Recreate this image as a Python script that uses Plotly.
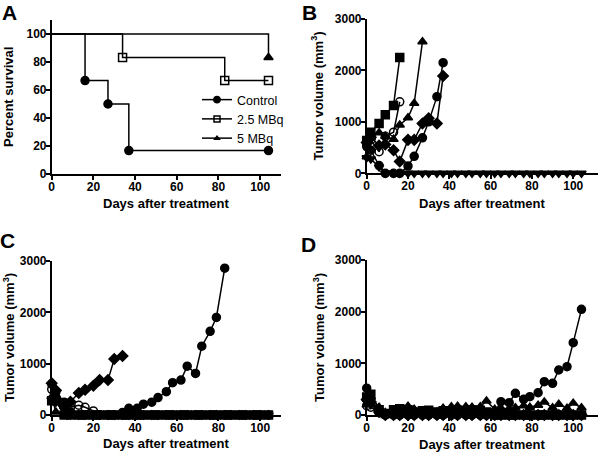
# Libraries
# =====================================================================
import plotly.graph_objects as go

# Data
# =====================================================================
# Measurement schedule (days after treatment)
days = [0, 2, 6, 9, 13, 16, 20, 23, 27, 30, 34, 37, 41, 44, 48, 51,
        55, 58, 62, 65, 69, 72, 76, 79, 83, 86, 90, 93, 97, 100, 104]

# Panel A - Kaplan-Meier survival (%)
surv_control_x = [0, 16, 27, 37, 104]
surv_control_y = [100, 66.7, 50, 16.7, 16.7]
surv_25_x = [0, 34, 83, 104]
surv_25_y = [100, 83.3, 66.7, 66.7]
surv_5_x = [0, 104]
surv_5_y = [100, 83.3]
surv_names = ['Control', '2.5 MBq', '5 MBq']

# Panel B - Control, tumor volume (mm3)
b_circle = [520, 450, 150, 0, 0, 0, 140, 330, 690, 1000, 1490, 2150]
b_square = [640, 800, 970, 1140, 1320, 2250]
b_open = [560, 650, 420, 720, 800, 1390]
b_tri_up = [320, 700, 790, 720, 660, 940, 1080, 1360, 2560]
b_diamond = [600, 700, 540, 560, 450, 230, 650, 650, 970, 1070, 970, 1890]
b_tri_down = [300, 280, 120] + [0] * 28

# Panel C - 2.5 MBq, tumor volume (mm3)
c_circle = [600, 450, 250, 60, 0, 0, 0, 0, 0, 0, 50, 130, 130, 210, 250,
            340, 455, 630, 680, 950, 810, 1340, 1630, 1900, 2860]
c_diamond = [620, 480, 170, 260, 430, 490, 570, 680, 680, 1090, 1150]
c_open = [500, 350, 200, 150, 190, 150, 80] + [0] * 24
c_square = [280, 280] + [0] * 29
c_tri_up = [350, 60] + [0] * 29
c_tri_down = [300, 250, 100] + [0] * 28

# Panel D - 5 MBq, tumor volume (mm3)
d_circle = [520, 300, 80] + [0] * 15 + [60, 258, 238, 419, 303, 355, 432,
                                        645, 613, 871, 935, 1400, 2045]
d_tri_up = [200, 350, 150, 50, 60, 90, 170, 110, 80, 70, 60, 130, 160, 170,
            160, 150, 160, 270, 110, 130, 120, 140, 180, 150, 190, 250,
            140, 210, 130, 230, 140]
d_square = [350, 400, 100, 30, 100, 120, 100, 60, 80, 90, 60, 80, 70, 90,
            80, 100, 90, 60, 0] + [0] * 12
d_open = [180, 150, 50] + [0] * 28
d_diamond = [300, 250, 60] + [0] * 28
d_tri_down = [250, 200, 60] + [0] * 28

# Data Visualization
# =====================================================================
FONT = 'Liberation Sans, Arial, sans-serif'
fig = go.Figure()

# Survival curves (panel A)
survival = [
    (surv_control_x, surv_control_y, 'circle'),
    (surv_25_x, surv_25_y, 'square-open'),
    (surv_5_x, surv_5_y, 'triangle-up'),
]
for (sx, sy, symbol), name in zip(survival, surv_names):
    fig.add_trace(go.Scatter(
        x=sx, y=sy,
        mode='lines+markers',
        name=name,
        line=dict(color='black', width=1.5, shape='hv'),
        marker=dict(symbol=symbol, size=[0] + [8] * (len(sx) - 1),
                    opacity=1, color='black',
                    line=dict(color='black', width=1.5)),
        cliponaxis=False,
        xaxis='x', yaxis='y'
    ))

# Tumor growth curves (panels B, C, D)
panels = [
    ('x2', 'y2', [(b_tri_down, 'triangle-down'), (b_circle, 'circle'),
                  (b_square, 'square'), (b_open, 'circle-open'),
                  (b_tri_up, 'triangle-up'), (b_diamond, 'diamond')]),
    ('x3', 'y3', [(c_tri_down, 'triangle-down'), (c_square, 'square'),
                  (c_tri_up, 'triangle-up'), (c_open, 'circle-open'),
                  (c_diamond, 'diamond'), (c_circle, 'circle')]),
    ('x4', 'y4', [(d_tri_down, 'triangle-down'), (d_diamond, 'diamond'),
                  (d_open, 'circle-open'), (d_square, 'square'),
                  (d_tri_up, 'triangle-up'), (d_circle, 'circle')]),
]
for xa, ya, series in panels:
    for values, symbol in series:
        fig.add_trace(go.Scatter(
            x=days[:len(values)], y=values,
            mode='lines+markers',
            line=dict(color='black', width=1.5),
            marker=dict(symbol=symbol, size=8, color='black',
                        line=dict(color='black', width=1.5)),
            cliponaxis=False,
            showlegend=False,
            xaxis=xa, yaxis=ya
        ))

# Axes
axis_style = dict(
    showline=True, linecolor='black', linewidth=1.5,
    ticks='outside', ticklen=4, tickwidth=1.5, tickcolor='black',
    showgrid=False, zeroline=False, automargin=False,
    ticklabelstandoff=-3,
    tickfont=dict(family=FONT, size=12, color='black', weight='bold')
)
W, H = 600, 452
def px_x(a, b):
    return [a / W, b / W]
def px_y(top, bottom):
    return [1 - bottom / H, 1 - top / H]

day_ticks = [0, 20, 40, 60, 80, 100]
vol_ticks = [0, 1000, 2000, 3000]

fig.update_layout(
    xaxis=dict(axis_style, domain=px_x(51.7, 281), range=[0, 110],
               tickvals=day_ticks, anchor='y'),
    yaxis=dict(axis_style, domain=px_y(20, 174), range=[0, 110],
               tickvals=[0, 20, 40, 60, 80, 100], anchor='x'),
    xaxis2=dict(axis_style, domain=px_x(366.7, 598), range=[0, 112],
                tickvals=day_ticks, anchor='y2'),
    yaxis2=dict(axis_style, domain=px_y(19, 173.3), range=[0, 3000],
                tickvals=vol_ticks, anchor='x2'),
    xaxis3=dict(axis_style, domain=px_x(51.7, 281), range=[0, 110],
                tickvals=day_ticks, anchor='y3'),
    yaxis3=dict(axis_style, domain=px_y(261, 415), range=[0, 3000],
                tickvals=vol_ticks, anchor='x3'),
    xaxis4=dict(axis_style, domain=px_x(366.7, 598), range=[0, 112],
                tickvals=day_ticks, anchor='y4'),
    yaxis4=dict(axis_style, domain=px_y(260, 415), range=[0, 3000],
                tickvals=vol_ticks, anchor='x4'),
)

# Titles and panel letters
annotations = []
def note(text, x, y, size, angle=0, bold=True):
    annotations.append(dict(
        text=text, x=x / W, y=1 - y / H, xref='paper', yref='paper',
        xanchor='center', yanchor='middle', showarrow=False,
        textangle=angle,
        font=dict(family=FONT, size=size, color='black',
                  weight='bold' if bold else 'normal')
    ))

note('A', 9.5, 12.5, 21)
note('B', 309.5, 12.5, 21)
note('C', 7.5, 240.5, 21)
note('D', 308.5, 244.5, 21)

note('Days after treatment', 166.3, 203, 13)
note('Days after treatment', 482.3, 203, 13)
note('Days after treatment', 166.3, 443, 13)
note('Days after treatment', 482.3, 444, 13)

note('Percent survival', 9, 97, 13, angle=-90)
note('Tumor volume (mm<sup>3</sup>)', 317.5, 96, 13, angle=-90)
note('Tumor volume (mm<sup>3</sup>)', 9, 338, 13, angle=-90)
note('Tumor volume (mm<sup>3</sup>)', 318.5, 337.5, 13, angle=-90)

fig.update_layout(
    annotations=annotations,
    width=W, height=H,
    margin=dict(l=0, r=0, t=0, b=0, autoexpand=False),
    plot_bgcolor='white',
    paper_bgcolor='white',
    showlegend=True,
    legend=dict(
        x=197 / W, y=1 - 85 / H,
        xanchor='left', yanchor='top',
        font=dict(family=FONT, size=12.5, color='black'),
        bgcolor='rgba(0,0,0,0)',
        tracegroupgap=0
    )
)

# Save as HTML file! (body margin removed so the figure fills the window)
fig.write_html("out.html", config={'displayModeBar': False},
               post_script="document.body.style.margin='0';")
